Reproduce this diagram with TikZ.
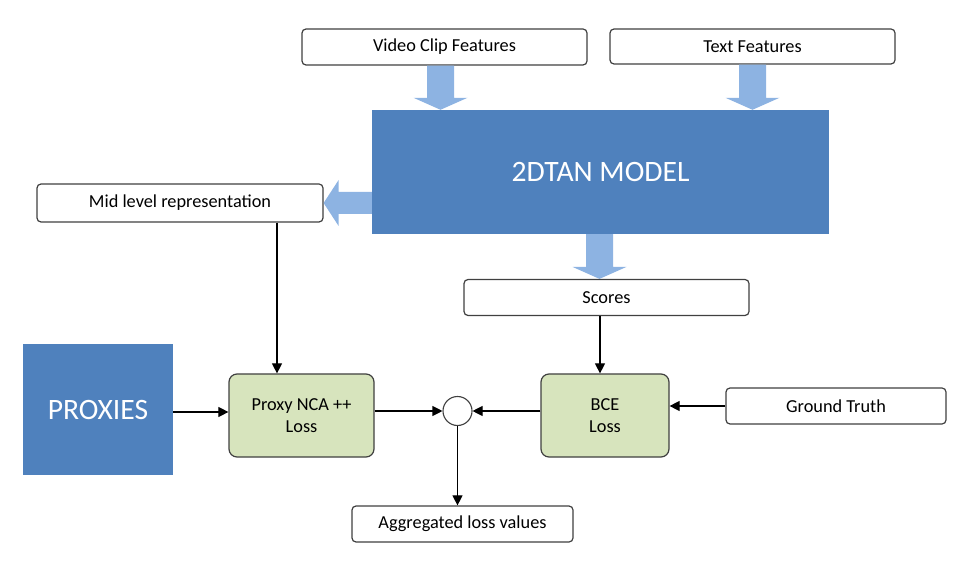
\documentclass[tikz,border=0pt]{standalone}
\usepackage{fontspec}
\setmainfont{Carlito}
\usetikzlibrary{calc,arrows.meta}
\definecolor{modelblue}{HTML}{4F81BD}
\definecolor{fatblue}{HTML}{8DB3E2}
\definecolor{lossgreen}{HTML}{D7E4BD}
\definecolor{edgegray}{HTML}{404040}
\tikzset{
  wbox/.style={draw=edgegray, line width=1.2pt, fill=white, rounded corners=4pt, inner sep=0pt, font=\fontsize{18.3}{22}\selectfont},
  gbox/.style={draw=edgegray, line width=1.2pt, fill=lossgreen, rounded corners=8pt, inner sep=0pt, align=center, font=\fontsize{18.3}{22}\selectfont},
  bbox/.style={fill=modelblue, inner sep=0pt, text=white, font=\fontsize{29.6}{34}\selectfont},
  fatarrow/.style={fill=fatblue},
  conn/.style={draw=black, line width=1.1pt, -{Triangle[width=10pt,length=10pt]}},
}
\newcommand{\fatdown}[2]{%
  \fill[fatarrow] ($(#1)+(-13.5,0)$) -- ($(#1)+(13.5,0)$) -- ($(#2)+(13.5,-12)$) -- ($(#2)+(27,-12)$) -- (#2) -- ($(#2)+(-27,-12)$) -- ($(#2)+(-13.5,-12)$) -- cycle;}
\newcommand{\fatleft}[2]{%
  \fill[fatarrow] ($(#1)+(0,-11)$) -- ($(#1)+(0,11)$) -- ($(#2)+(15,11)$) -- ($(#2)+(15,23)$) -- (#2) -- ($(#2)+(15,-23)$) -- ($(#2)+(15,-11)$) -- cycle;}
\begin{document}
\begin{tikzpicture}[x=1pt,y=-1pt]
\useasboundingbox (0,0) rectangle (959,561);
% nodes
\node[wbox, minimum width=285pt, minimum height=36pt] (vcf) at (444.5,47) {Video Clip Features};
\node[wbox, minimum width=285pt, minimum height=35pt] (tf) at (752.5,46.5) {Text Features};
\node[bbox, minimum width=457pt, minimum height=124pt] (model) at (600.5,172) {2DTAN MODEL};
\node[wbox, minimum width=286pt, minimum height=38pt] (mid) at (180,203) {Mid level representation};
\node[wbox, minimum width=285pt, minimum height=36pt] (scores) at (606.5,297.5) {Scores};
\node[bbox, minimum width=150pt, minimum height=131pt] (proxies) at (98,409.5) {PROXIES};
\node[gbox, minimum width=145pt, minimum height=83pt] (nca) at (301.5,415.5) {Proxy NCA ++\\Loss};
\node[gbox, minimum width=128pt, minimum height=83pt] (bce) at (605,415.5) {BCE\\Loss};
\node[wbox, minimum width=220pt, minimum height=36pt] (gt) at (836,406) {Ground Truth};
\node[circle, draw=edgegray, line width=1.1pt, fill=white, minimum size=29pt, inner sep=0pt] (circ) at (457.5,411) {};
\node[wbox, minimum width=221pt, minimum height=36pt] (agg) at (462.5,524) {Aggregated loss values};
% fat arrows
\coordinate (v1) at ($(vcf.south)+(-4,0)$);
\coordinate (v2) at (v1 |- model.north);
\fatdown{v1}{v2}
\coordinate (t1) at (tf.south);
\coordinate (t2) at (t1 |- model.north);
\fatdown{t1}{t2}
\coordinate (s1) at ($(model.south)+(-1,0)$);
\coordinate (s2) at (s1 |- scores.north);
\fatdown{s1}{s2}
\coordinate (m1) at ($(model.west)+(0,31)$);
\coordinate (m2) at (m1 -| mid.east);
\fatleft{m1}{m2}
% connectors
\coordinate (a1) at ($(mid.south)+(97,0)$);
\draw[conn] (a1) -- (a1 |- nca.north);
\coordinate (a2) at ($(proxies.east)+(0,2.5)$);
\draw[conn] (a2) -- (a2 -| nca.west);
\draw[conn] (nca.east |- circ) -- (circ.west);
\draw[conn] (bce.west |- circ) -- (circ.east);
\draw[conn] (gt.west) -- (gt.west -| bce.east);
\coordinate (a3) at ($(bce.north)+(-5,0)$);
\draw[conn] (a3 |- scores.south) -- (a3);
\draw[conn] (circ.south) -- (circ.south |- agg.north);
\end{tikzpicture}
\end{document}
